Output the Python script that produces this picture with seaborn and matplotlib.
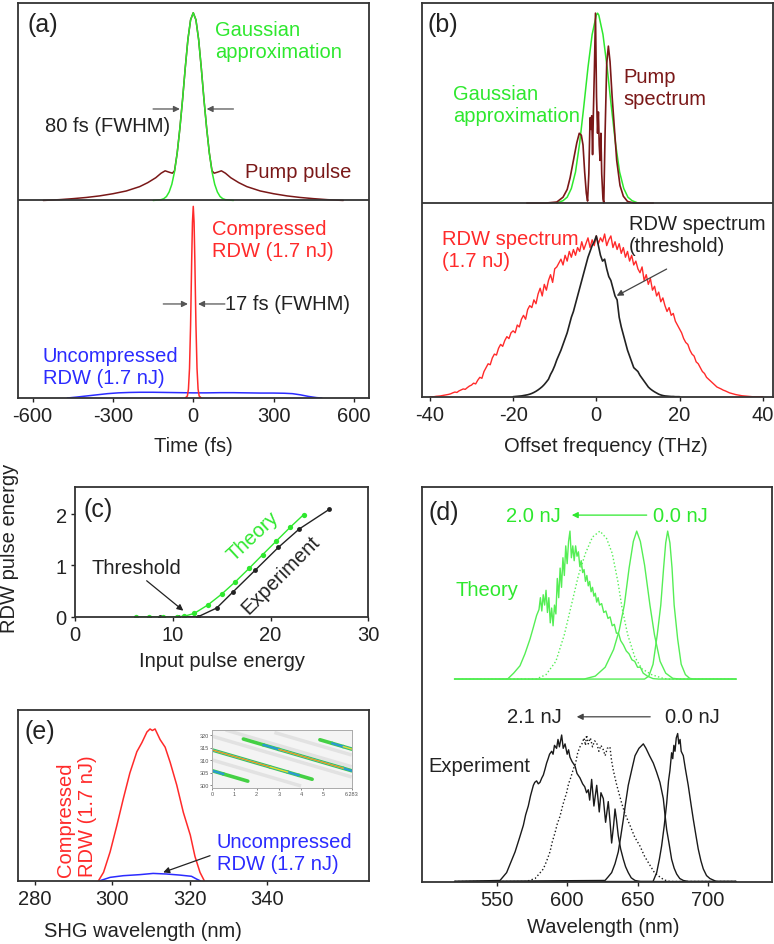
import numpy as np
import matplotlib
matplotlib.use("Agg")
import matplotlib.pyplot as plt
import seaborn as sns

sns.set_theme(style="white")
plt.rcParams["font.family"] = ["Liberation Sans", "DejaVu Sans"]
plt.rcParams["axes.unicode_minus"] = False

W, H = 774, 945
FS = 14.5

GREEN = "#2ee82e"
LGREEN = "#55ee55"
DRED = "#7a1818"
RED = "#ff2a2a"
BLUE = "#2b2bff"
INK = "#222222"

# ---------------- (a) time domain ----------------
gauss_a_t = [-150, -120, -110, -100, -90, -80, -70, -60, -50, -40, -30, -20, -10, 0,
             10, 20, 30, 40, 50, 60, 70, 80, 90, 100, 110, 120, 150]
gauss_a_y = [0, 0.004, 0.009, 0.02, 0.043, 0.082, 0.145, 0.24, 0.365, 0.51, 0.67, 0.815, 0.914, 0.95,
             0.914, 0.815, 0.67, 0.51, 0.365, 0.24, 0.145, 0.082, 0.043, 0.02, 0.009, 0.004, 0]
pump_a_t = [-560, -500, -450, -400, -350, -300, -250, -200, -170, -140, -120, -105, -90, -78, -70,
            -60, -50, -40, -30, -20, -10, 0, 10, 20, 30, 40, 50, 60, 70, 78, 90, 105, 120, 140,
            170, 200, 250, 300, 350, 400, 450, 500, 560]
pump_a_y = [0, 0.004, 0.009, 0.015, 0.023, 0.034, 0.048, 0.07, 0.09, 0.115, 0.138, 0.15, 0.143, 0.138, 0.15,
            0.24, 0.365, 0.51, 0.67, 0.815, 0.914, 0.95, 0.914, 0.815, 0.67, 0.51, 0.365, 0.24, 0.15, 0.138,
            0.143, 0.15, 0.138, 0.115, 0.09, 0.07, 0.048, 0.034, 0.023, 0.015, 0.009, 0.004, 0]
comp_a_t = [-30, -22, -18, -14, -10, -8, -6, -3, 0, 3, 6, 8, 10, 14, 18, 22, 30]
comp_a_y = [0, 0.01, 0.045, 0.15, 0.37, 0.525, 0.69, 0.89, 0.97, 0.89, 0.69, 0.525, 0.37, 0.15, 0.045, 0.01, 0]
unc_a_t = [-470, -440, -400, -360, -320, -280, -240, -200, -150, -100, -50, 0, 50, 100, 150, 200,
           250, 300, 340, 370, 400, 430, 460, 480]
unc_a_y = [0, 0.004, 0.01, 0.016, 0.022, 0.026, 0.028, 0.029, 0.029, 0.028, 0.027, 0.026, 0.026, 0.027,
           0.027, 0.026, 0.025, 0.025, 0.024, 0.022, 0.016, 0.008, 0.002, 0]
ticks_a = [-600, -300, 0, 300, 600]

# ---------------- (b) spectra ----------------
gauss_b_f = [-9.5, -8, -7, -6, -5, -4, -3, -2, -1, 0, 0.3, 0.6, 1.6, 2.6, 3.6, 4.6, 5.6, 6.6, 7.6, 8.6, 10]
gauss_b_y = [0, 0.012, 0.03, 0.075, 0.16, 0.31, 0.5, 0.7, 0.87, 0.97, 0.98, 0.97, 0.87, 0.7, 0.5, 0.31,
             0.16, 0.075, 0.03, 0.012, 0]
pump_b_f = [-16.7, -12, -9.5, -8, -7, -6.3, -5.5, -4.7, -4.1, -3.6, -3.2, -2.8, -2.4, -2.1, -1.8, -1.5,
            -1.3, -1.1, -0.9, -0.7, -0.45, -0.2, 0.05, 0.3, 0.5, 0.7, 0.9, 1.1, 1.3, 1.6, 1.8, 2.1, 2.5,
            2.9, 3.3, 3.8, 4.3, 4.9, 5.7, 6.5, 7.5, 9, 13.7]
pump_b_y = [0, 0, 0.005, 0.03, 0.07, 0.13, 0.22, 0.31, 0.36, 0.35, 0.3, 0.16, 0.05, 0.01, 0.15, 0.44,
            0.38, 0.45, 0.25, 0.47, 0.7, 0.98, 0.55, 0.36, 0.47, 0.3, 0.22, 0.36, 0.15, 0.02, 0.0, 0.35,
            0.72, 0.81, 0.73, 0.55, 0.4, 0.22, 0.09, 0.035, 0.008, 0, 0]
rdw_b_f = np.arange(-40, 40.01, 0.5)
rdw_b_y = [0, 0, 0, 0.002, 0.003, 0.004, 0.006, 0.008, 0.01, 0.012,
           0.015, 0.02, 0.024, 0.022, 0.03, 0.035, 0.04, 0.038, 0.047, 0.055,
           0.06, 0.07, 0.066, 0.085, 0.1, 0.095, 0.13, 0.15, 0.17, 0.165,
           0.2, 0.22, 0.215, 0.25, 0.27, 0.26, 0.29, 0.31, 0.3, 0.33,
           0.34, 0.33, 0.37, 0.36, 0.4, 0.42, 0.4, 0.45, 0.47, 0.46,
           0.5, 0.48, 0.53, 0.56, 0.52, 0.58, 0.55, 0.6, 0.63, 0.59,
           0.66, 0.67, 0.69, 0.71, 0.68, 0.73, 0.7, 0.75, 0.72, 0.76,
           0.73, 0.77, 0.75, 0.8, 0.76, 0.79, 0.82, 0.77, 0.81, 0.78,
           0.83, 0.79, 0.82, 0.8, 0.84, 0.78, 0.81, 0.83, 0.77, 0.8,
           0.76, 0.79, 0.74, 0.77, 0.72, 0.75, 0.7, 0.73, 0.68, 0.7,
           0.66, 0.64, 0.67, 0.6, 0.63, 0.58, 0.61, 0.55, 0.57, 0.52,
           0.54, 0.49, 0.51, 0.47, 0.44, 0.46, 0.42, 0.43, 0.39, 0.37,
           0.35, 0.33, 0.3, 0.28, 0.27, 0.24, 0.22, 0.21, 0.18, 0.17,
           0.15, 0.13, 0.12, 0.1, 0.09, 0.08, 0.07, 0.06, 0.05, 0.045,
           0.04, 0.034, 0.03, 0.025, 0.02, 0.017, 0.014, 0.011, 0.009, 0.007,
           0.005, 0.004, 0.003, 0.002, 0.001, 0, 0, 0, 0, 0,
           0]
thr_b_f = np.arange(-20, 20.01, 0.5)
thr_b_y = [0, 0.001, 0.002, 0.003, 0.004, 0.006, 0.008, 0.01, 0.013, 0.017,
           0.022, 0.028, 0.035, 0.043, 0.052, 0.063, 0.076, 0.09, 0.115, 0.135,
           0.16, 0.19, 0.215, 0.24, 0.27, 0.3, 0.33, 0.37, 0.41, 0.44,
           0.48, 0.52, 0.56, 0.6, 0.64, 0.68, 0.72, 0.75, 0.78, 0.8,
           0.83, 0.78, 0.73, 0.7, 0.71, 0.66, 0.62, 0.6, 0.56, 0.52,
           0.5, 0.41, 0.36, 0.32, 0.28, 0.24, 0.21, 0.18, 0.15, 0.14,
           0.13, 0.11, 0.095, 0.08, 0.065, 0.05, 0.04, 0.032, 0.025, 0.019,
           0.013, 0.009, 0.006, 0.004, 0.003, 0.002, 0.001, 0.001, 0, 0,
           0]
ticks_b = [-40, -20, 0, 20, 40]

# ---------------- (c) energy scaling ----------------
theory_c_x = [6.2, 7.6, 9.0, 10.4, 11.2, 12.2, 13.6, 15.0, 16.4, 17.8, 19.2, 20.6, 22.0, 23.4]
theory_c_y = [0, 0, 0, 0, 0.01, 0.065, 0.23, 0.44, 0.68, 0.94, 1.21, 1.475, 1.74, 1.99]
exp_c_x = [8.7, 10.5, 12.6, 14.5, 16.2, 18.4, 20.8, 22.95, 26.0]
exp_c_y = [0, 0, 0, 0.17, 0.49, 0.9, 1.35, 1.71, 2.09]

# ---------------- (d) RDW spectra vs energy ----------------
th0_x = [520, 655, 658, 661, 664, 666.5, 668.5, 670, 671.4, 673, 674.5, 676, 678.5, 681, 684, 687, 690, 720]
th0_y = [0, 0, 0.02, 0.1, 0.3, 0.5, 0.75, 0.92, 1.0, 0.92, 0.75, 0.5, 0.27, 0.1, 0.03, 0.005, 0, 0]
th1_x = [520, 612, 620, 627, 633, 637, 640.6, 644, 647, 649.4, 652, 655, 658.8, 662, 666, 670, 675, 680, 720]
th1_y = [0, 0, 0.02, 0.08, 0.2, 0.33, 0.5, 0.75, 0.93, 1.0, 0.93, 0.77, 0.5, 0.3, 0.12, 0.04, 0.005, 0, 0]
th2_x = [520, 578, 585, 592, 598, 603, 608, 613, 618, 623.3, 628, 632, 636, 639, 643, 648, 653, 660, 668, 672, 720]
th2_y = [0, 0, 0.03, 0.12, 0.3, 0.5, 0.7, 0.85, 0.96, 1.0, 0.95, 0.85, 0.66, 0.48, 0.3, 0.15, 0.07, 0.03, 0.005, 0, 0]
th3_x = [520, 556, 558, 562, 566.5, 570, 573.6, 576, 578.3, 580, 581, 582, 583, 584, 585, 586, 587, 588,
         589, 590, 591, 592, 593, 594, 595, 596, 597, 598, 599, 600, 601, 602, 603, 604, 605, 606, 607,
         608, 609, 610, 611, 612, 613, 614, 615, 616, 617, 618, 619, 620, 621, 622, 623, 624.5, 626,
         627.5, 629, 630.5, 632, 633.5, 635, 636.5, 638, 640, 642, 644, 646, 648, 650, 652, 654, 657,
         661, 665, 720]
th3_y = [0, 0, 0.003, 0.04, 0.09, 0.17, 0.27, 0.35, 0.43, 0.47, 0.55, 0.46, 0.57, 0.5, 0.6, 0.45, 0.55, 0.38,
         0.48, 0.36, 0.5, 0.44, 0.68, 0.55, 0.75, 0.62, 0.82, 0.7, 0.9, 0.78, 0.93, 1.0, 0.82, 0.9, 0.8, 0.9,
         0.83, 0.86, 0.76, 0.8, 0.72, 0.74, 0.66, 0.7, 0.63, 0.66, 0.59, 0.62, 0.56, 0.58, 0.52, 0.55, 0.5,
         0.51, 0.45, 0.46, 0.41, 0.42, 0.36, 0.37, 0.31, 0.31, 0.26, 0.23, 0.19, 0.17, 0.13, 0.12, 0.08, 0.08,
         0.04, 0.02, 0.003, 0, 0]
ex0_x = [520, 661, 663.6, 665.5, 667.1, 669, 670.7, 672, 673, 674.2, 675, 675.8, 676.6, 677.5, 678.5, 679.3,
         680.2, 681, 682.5, 684, 686, 688, 689.6, 691.5, 693.1, 695, 696.7, 699, 701.4, 706, 720]
ex0_y = [0, 0, 0.06, 0.15, 0.24, 0.38, 0.53, 0.68, 0.75, 0.87, 0.83, 0.92, 0.88, 0.97, 1.0, 0.93,
         0.96, 0.88, 0.85, 0.76, 0.65, 0.52, 0.42, 0.31, 0.22, 0.14, 0.085, 0.04, 0.02, 0, 0]
ex1_x = [520, 626.9, 629, 631.6, 634, 636.3, 638, 639.9, 641.5, 643.4, 646, 648.2, 651, 654.1, 656, 658.5,
         661.2, 663.5, 665.9, 667, 668.3, 669.5, 670.7, 672.5, 674.2, 676, 677.8, 680, 682.5, 686, 720]
ex1_y = [0, 0.007, 0.03, 0.06, 0.12, 0.2, 0.3, 0.42, 0.53, 0.65, 0.76, 0.85, 0.9, 0.93, 0.9, 0.85,
         0.8, 0.74, 0.67, 0.62, 0.56, 0.45, 0.35, 0.25, 0.15, 0.09, 0.05, 0.02, 0.007, 0, 0]
ex2_x = [520, 571, 574, 577.2, 580, 583.1, 585.5, 587.8, 589.5, 591.4, 593, 594.9, 597, 599.6, 601, 602.5,
         604.4, 606, 607.5, 609.1, 610.5, 612, 613, 613.8, 615, 616.5, 618, 619.5, 620.9, 622.5, 624,
         625.7, 627, 628.5, 630.4, 631.5, 632.8, 635, 636.7, 638.7, 641, 644.6, 648, 651.7, 655, 658.8,
         662, 665.9, 669, 673, 720]
ex2_y = [0, 0, 0.01, 0.02, 0.05, 0.085, 0.14, 0.2, 0.27, 0.33, 0.39, 0.44, 0.52, 0.6, 0.66, 0.7,
         0.76, 0.8, 0.87, 0.91, 0.93, 0.97, 0.92, 0.99, 0.93, 0.97, 0.91, 0.95, 0.94, 0.88, 0.92,
         0.89, 0.85, 0.9, 0.91, 0.82, 0.75, 0.66, 0.6, 0.53, 0.46, 0.38, 0.3, 0.24, 0.17, 0.11,
         0.06, 0.03, 0.01, 0, 0]
ex3_x = [520, 552.3, 557, 560, 563, 566, 568.9, 570.5, 572.4, 574, 576, 577, 578.3, 579.5, 580.7, 582,
         583.1, 584.3, 585.4, 586.5, 587.5, 589, 590, 591, 592.5, 593.5, 594.5, 596.1, 597.2, 598.5, 600,
         601, 602, 603.5, 605.6, 607, 609.1, 611, 612.5, 613.8, 615, 616, 617.4, 619, 621, 622.8, 624,
         625.7, 627.3, 629.2, 630.5, 631.6, 633, 634, 635, 636.3, 638, 639.9, 641.5, 643.4, 645.5, 648.2,
         652, 720]
ex3_y = [0, 0.007, 0.06, 0.13, 0.2, 0.29, 0.38, 0.45, 0.51, 0.58, 0.65, 0.67, 0.68, 0.66, 0.67, 0.7,
         0.72, 0.76, 0.8, 0.83, 0.86, 0.88, 0.86, 0.92, 0.9, 0.96, 0.91, 0.99, 0.9, 0.93, 0.86,
         0.89, 0.84, 0.81, 0.78, 0.73, 0.7, 0.66, 0.64, 0.6, 0.62, 0.55, 0.69, 0.51, 0.65, 0.47, 0.6,
         0.56, 0.4, 0.54, 0.4, 0.26, 0.38, 0.49, 0.42, 0.31, 0.22, 0.15, 0.1, 0.06, 0.025, 0.007,
         0, 0]
theory_offset_d = 1.368
ticks_d = [550, 600, 650, 700]

# ---------------- (e) SHG spectra ----------------
red_e_x = [296.5, 297.8, 299.5, 301.2, 302.9, 304.6, 306.4, 307.7, 309.0, 309.8, 310.4, 311.1, 312.4,
           313.7, 315.0, 316.7, 318.4, 320.2, 321.4, 322.7, 323.8]
red_e_y = [0, 0.055, 0.19, 0.36, 0.54, 0.71, 0.85, 0.91, 0.98, 1.0, 0.99, 1.0, 0.93, 0.88, 0.78, 0.63,
           0.45, 0.3, 0.16, 0.055, 0]
blue_e_x = [296.9, 299.5, 302.9, 307.2, 310.6, 314.1, 317.5, 320.5, 321.8, 322.7]
blue_e_y = [0, 0.022, 0.033, 0.04, 0.048, 0.044, 0.037, 0.029, 0.011, 0]
ticks_e = [280, 300, 320, 340]

# inset trace: stripe segments (x0, x1, y0, y1, intensity level)
seg_x0 = [1.4, 2.3, 3.0, 5.9, 0.0, 2.6, 3.4, 3.9, 0.0, 0.5, 4.85, 5.4, 5.9]
seg_x1 = [2.3, 3.0, 5.9, 6.283, 2.6, 3.4, 3.9, 4.5, 0.5, 1.6, 5.4, 5.9, 6.283]
seg_y0 = [318.4, 316.06, 314.24, 306.7, 314.0, 307.24, 305.16, 303.86, 305.7, 304.4, 318.1, 316.67, 315.37]
seg_y1 = [316.06, 314.24, 306.7, 305.7, 307.24, 305.16, 303.86, 302.3, 304.4, 301.54, 316.67, 315.37, 314.37]
seg_lvl = [1, 2, 4, 2, 4, 3, 2, 1, 2, 1, 1, 2, 3]
ghost_x0 = [0.0, 0.0, 2.8, 0.6]
ghost_x1 = [6.283, 4.0, 6.283, 6.283]
ghost_y0 = [319.5, 310.0, 321.0, 322.0]
ghost_y1 = [303.2, 299.6, 312.0, 307.3]
inset_xticks = [0, 1, 2, 3, 4, 5, 6.283]
inset_xlabels = ["0", "1", "2", "3", "4", "5", "6.283"]
inset_yticks = [300, 305, 310, 315, 320]


def rect(l, t, r, b):
    return [l / W, 1 - b / H, (r - l) / W, (b - t) / H]


def line(ax, x, y, color, lw=1.1, ls="-", **kw):
    sns.lineplot(x=np.asarray(x, float), y=np.asarray(y, float), ax=ax, color=color,
                 lw=lw, linestyle=ls, estimator=None, sort=False, **kw)


def style(ax, px):
    for s in ax.spines.values():
        s.set_color("#333333")
        s.set_linewidth(1.3)
    ax.tick_params(axis="both", direction="out", length=3, width=1, pad=3,
                   labelsize=FS, colors=INK, bottom=True, left=False)
    ax.set_yticks([])
    ax.set_ylabel("")
    ax._px = px


def xlab(ax, text, cx, cy):
    l, t, r, b = ax._px
    ax.set_xlabel(text, fontsize=FS, color=INK)
    ax.xaxis.label.set_va("center")
    ax.xaxis.set_label_coords((cx - l) / (r - l), (b - cy) / (b - t))


def arrow(ax, x0, y0, x1, y1, color=INK, lw=0.9):
    ax.annotate("", xy=(x1, y1), xytext=(x0, y0),
                arrowprops=dict(arrowstyle="-|>", color=color, lw=lw, mutation_scale=9,
                                shrinkA=0, shrinkB=0))


fig = plt.figure(figsize=(W / 100, H / 100), dpi=100)

# ---- (a)
pa = (18.3, 4.3, 369.3, 399)
axA = fig.add_axes(rect(*pa))
line(axA, pump_a_t, np.array(pump_a_y) + 1, DRED)
line(axA, gauss_a_t, np.array(gauss_a_y) + 1, GREEN)
line(axA, unc_a_t, unc_a_y, BLUE)
line(axA, comp_a_t, comp_a_y, RED)
axA.axhline(1, color="#333333", lw=1.3)
axA.set_xlim(-653, 657)
axA.set_ylim(0, 1.998)
style(axA, pa)
axA.set_xticks(ticks_a)
axA.set_xticklabels([str(v) for v in ticks_a])
xlab(axA, "Time (fs)", 193, 447)
axA.text(-620, 1.894, "(a)", fontsize=18, color=INK, va="center", ha="left")
axA.text(81, 1.81, "Gaussian\napproximation", fontsize=FS, color=GREEN, va="center", ha="left")
axA.text(-553, 1.377, "80 fs (FWHM)", fontsize=FS, color=INK, va="center", ha="left")
arrow(axA, -150, 1.463, -50, 1.463, color="#555555")
arrow(axA, 150, 1.463, 50, 1.463, color="#555555")
axA.text(193, 1.149, "Pump pulse", fontsize=FS, color=DRED, va="center", ha="left")
axA.text(70, 0.803, "Compressed\nRDW (1.7 nJ)", fontsize=FS, color=RED, va="center", ha="left")
axA.text(118, 0.476, "17 fs (FWHM)", fontsize=FS, color=INK, va="center", ha="left")
arrow(axA, -112, 0.476, -20, 0.476, color="#555555")
arrow(axA, 118, 0.476, 18, 0.476, color="#555555")
axA.text(-561, 0.16, "Uncompressed\nRDW (1.7 nJ)", fontsize=FS, color=BLUE, va="center", ha="left")

# ---- (b)
pb = (422, 4.3, 772.7, 397.7)
axB = fig.add_axes(rect(*pb))
line(axB, rdw_b_f, rdw_b_y, RED, lw=1.0)
line(axB, thr_b_f, thr_b_y, INK, lw=1.2)
line(axB, gauss_b_f, np.array(gauss_b_y) + 1, GREEN)
line(axB, pump_b_f, np.array(pump_b_y) + 1, DRED, lw=1.2)
axB.axhline(1, color="#333333", lw=1.3)
axB.set_xlim(-41.9, 42.4)
axB.set_ylim(0, 2.031)
style(axB, pb)
axB.set_xticks(ticks_b)
axB.set_xticklabels([str(v) for v in ticks_b])
xlab(axB, "Offset frequency (THz)", 606, 447)
axB.text(-40.5, 1.924, "(b)", fontsize=18, color=INK, va="center", ha="left")
axB.text(-34.5, 1.509, "Gaussian\napproximation", fontsize=FS, color=GREEN, va="center", ha="left")
axB.text(6.4, 1.594, "Pump\nspectrum", fontsize=FS, color=DRED, va="center", ha="left")
axB.text(-37.1, 0.7625, "RDW spectrum\n(1.7 nJ)", fontsize=FS, color=RED, va="center", ha="left")
axB.text(7.8, 0.837, "RDW spectrum\n(threshold)", fontsize=FS, color=INK, va="center", ha="left")
arrow(axB, 16.9, 0.659, 4.9, 0.521, color="#444444")

# ---- (c)
pc = (75, 488.3, 368.3, 617.7)
axC = fig.add_axes(rect(*pc))
line(axC, exp_c_x, exp_c_y, INK, lw=1.0, marker="o", markersize=3.5, markeredgewidth=0)
line(axC, theory_c_x, theory_c_y, GREEN, lw=1.0, marker="o", markersize=3.8, markeredgewidth=0)
axC.set_xlim(0, 30)
axC.set_ylim(0, 2.52)
style(axC, pc)
axC.tick_params(axis="y", left=True)
axC.set_xticks([0, 10, 20, 30])
axC.set_xticklabels(["0", "10", "20", "30"])
axC.set_yticks([0, 1, 2])
axC.set_yticklabels(["0", "1", "2"])
xlab(axC, "Input pulse energy", 221.7, 661.7)
axC.set_ylabel("RDW pulse energy", fontsize=FS, color=INK)
axC.yaxis.label.set_va("center")
axC.yaxis.set_label_coords((10 - 75) / (368.3 - 75), (617.7 - 548) / (617.7 - 488.3))
axC.text(0.82, 2.1, "(c)", fontsize=18, color=INK, va="center", ha="left")
axC.text(1.7, 0.96, "Threshold", fontsize=FS, color=INK, va="center", ha="left")
arrow(axC, 7.33, 0.70, 11.08, 0.117)
axC.text(18.2, 1.58, "Theory", fontsize=FS, color=GREEN, va="center", ha="center", rotation=43)
axC.text(21.0, 0.83, "Experiment", fontsize=FS, color=INK, va="center", ha="center", rotation=45)

# ---- (d)
pd_ = (422, 488, 772, 883)
axD = fig.add_axes(rect(*pd_))
for xs, ys, ls in [(th0_x, th0_y, "-"), (th1_x, th1_y, "-"), (th2_x, th2_y, ":"), (th3_x, th3_y, "-")]:
    line(axD, xs, np.array(ys) + theory_offset_d, LGREEN, lw=1.0, ls=ls)
for xs, ys, ls in [(ex0_x, ex0_y, "-"), (ex1_x, ex1_y, "-"), (ex2_x, ex2_y, ":"), (ex3_x, ex3_y, "-")]:
    line(axD, xs, ys, "#1a1a1a", lw=1.0, ls=ls)
axD.set_xlim(496.9, 745.5)
axD.set_ylim(-0.0034, 2.666)
style(axD, pd_)
axD.set_xticks(ticks_d)
axD.set_xticklabels([str(v) for v in ticks_d])
xlab(axD, "Wavelength (nm)", 603, 928)
axD.text(501.2, 2.497, "(d)", fontsize=18, color=INK, va="center", ha="left")
axD.text(556.6, 2.476, "2.0 nJ", fontsize=FS, color=GREEN, va="center", ha="left")
arrow(axD, 656.5, 2.476, 603.3, 2.476, color=GREEN)
axD.text(661.2, 2.476, "0.0 nJ", fontsize=FS, color=GREEN, va="center", ha="left")
axD.text(520.4, 1.976, "Theory", fontsize=FS, color=GREEN, va="center", ha="left")
axD.text(557.1, 1.113, "2.1 nJ", fontsize=FS, color=INK, va="center", ha="left")
arrow(axD, 659.0, 1.113, 606.8, 1.113, color="#444444")
axD.text(669.5, 1.113, "0.0 nJ", fontsize=FS, color=INK, va="center", ha="left")
axD.text(501.4, 0.782, "Experiment", fontsize=FS, color=INK, va="center", ha="left")

# ---- (e)
pe = (18.3, 710.7, 369.3, 881.7)
axE = fig.add_axes(rect(*pe))
line(axE, red_e_x, red_e_y, RED)
line(axE, blue_e_x, blue_e_y, BLUE)
axE.set_xlim(275.8, 366.4)
axE.set_ylim(0, 1.127)
style(axE, pe)
axE.set_xticks(ticks_e)
axE.set_xticklabels([str(v) for v in ticks_e])
xlab(axE, "SHG wavelength (nm)", 143, 931.7)
axE.text(277.5, 0.989, "(e)", fontsize=18, color=INK, va="center", ha="left")
axE.text(290.7, 0.033, "Compressed\nRDW (1.7 nJ)", fontsize=FS, color=RED, va="bottom", ha="center",
         rotation=90, multialignment="left")
axE.text(327, 0.184, "Uncompressed\nRDW (1.7 nJ)", fontsize=FS, color=BLUE, va="center", ha="left")
arrow(axE, 325.3, 0.165, 313.2, 0.055)

# inset trace
pin = (212.3, 731, 351.7, 789)
axI = fig.add_axes(rect(*pin))
axI.set_facecolor("#f4f4f4")
for x0, x1, y0, y1 in zip(ghost_x0, ghost_x1, ghost_y0, ghost_y1):
    axI.plot([x0, x1], [y0, y1], color="#e2e2e2", lw=2.5, solid_capstyle="butt")
lvl_style = [(1, "#44d044", 2.6), (2, "#2a9ad0", 1.7), (3, "#e8e41c", 1.0), (4, "#e06a20", 0.45)]
for lv, col, lw in lvl_style:
    for x0, x1, y0, y1, L in zip(seg_x0, seg_x1, seg_y0, seg_y1, seg_lvl):
        if L >= lv:
            axI.plot([x0, x1], [y0, y1], color=col, lw=lw, solid_capstyle="round")
axI.set_xlim(0, 6.283)
axI.set_ylim(298.8, 322)
axI.set_xticks(inset_xticks)
axI.set_xticklabels(inset_xlabels)
axI.set_yticks(inset_yticks)
axI.set_yticklabels([str(v) for v in inset_yticks])
axI.tick_params(axis="both", labelsize=4, length=1.5, width=0.5, pad=1, colors="#555555",
                bottom=True, left=True)
for s in axI.spines.values():
    s.set_color("#aaaaaa")
    s.set_linewidth(0.7)

fig.savefig("out.png", dpi=100)
